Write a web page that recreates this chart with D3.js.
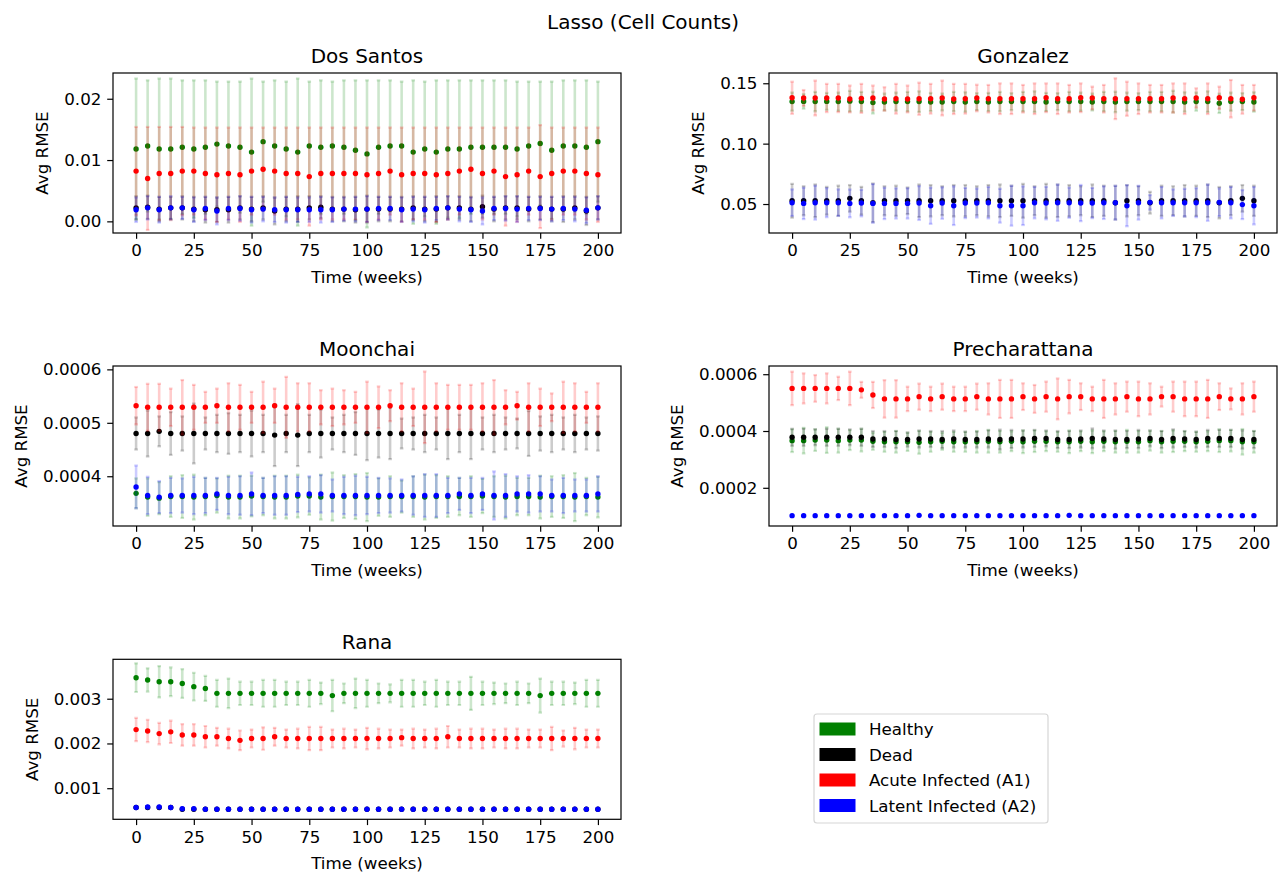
<!DOCTYPE html>
<html><head><meta charset="utf-8">
<script src="https://cdn.jsdelivr.net/npm/d3@7"></script>
<style>body{margin:0;background:#fff} svg text{font-family:"DejaVu Sans",sans-serif;fill:#000}</style>
</head><body><svg id="c" width="1280" height="873"></svg>
<script>
// ---------------- DATA ----------------
const figTitle = "Lasso (Cell Counts)";
const panelTitles = ["Dos Santos", "Gonzalez", "Moonchai", "Precharattana", "Rana"];
const seriesNames = ["Healthy", "Dead", "Acute Infected (A1)", "Latent Infected (A2)"];
const weeks = [0,5,10,15,20,25,30,35,40,45,50,55,60,65,70,75,80,85,90,95,100,105,110,115,120,125,130,135,140,145,150,155,160,165,170,175,180,185,190,195,200];
const xTickValues = [0,25,50,75,100,125,150,175,200];
const xTickLabels = ["0","25","50","75","100","125","150","175","200"];
const xLabel = "Time (weeks)";
const yLabel = "Avg RMSE";

// Dos Santos
const dsHealthy = [.0118,.0123,.0118,.0118,.0121,.0118,.0121,.0126,.0123,.0121,.0113,.0130,.0123,.0118,.0113,.0123,.0121,.0123,.0121,.0116,.0110,.0121,.0123,.0123,.0113,.0118,.0113,.0118,.0118,.0121,.0121,.0121,.0121,.0118,.0123,.0127,.0116,.0123,.0123,.0121,.0130];
const dsHealthyErr = [.0115,.0107,.0115,.0115,.0109,.0112,.0109,.0102,.0105,.0107,.0120,.0098,.0107,.0110,.0120,.0105,.0109,.0105,.0109,.0114,.0120,.0109,.0107,.0105,.0117,.0110,.0117,.0112,.0112,.0109,.0109,.0109,.0109,.0110,.0105,.0101,.0112,.0107,.0107,.0109,.0098];
const dsDead = [.0022,.0023,.0020,.0022,.0022,.0020,.0019,.0019,.0019,.0022,.0020,.0022,.0017,.0020,.0020,.0022,.0023,.0020,.0020,.0019,.0020,.0020,.0020,.0020,.0022,.0020,.0020,.0022,.0022,.0020,.0024,.0020,.0022,.0022,.0020,.0022,.0020,.0020,.0022,.0017,.0022];
const dsDeadErr = [.0019,.0019,.0020,.0018,.0019,.0020,.0021,.0020,.0021,.0019,.0020,.0019,.0022,.0020,.0021,.0019,.0018,.0020,.0020,.0021,.0022,.0020,.0020,.0020,.0019,.0020,.0021,.0019,.0019,.0020,.0018,.0020,.0019,.0019,.0020,.0019,.0020,.0021,.0019,.0023,.0019];
const dsA1 = [.0082,.0070,.0078,.0078,.0082,.0082,.0078,.0076,.0078,.0076,.0082,.0085,.0082,.0078,.0078,.0073,.0078,.0078,.0078,.0078,.0076,.0078,.0082,.0076,.0078,.0078,.0076,.0078,.0082,.0085,.0078,.0082,.0073,.0076,.0082,.0073,.0078,.0082,.0082,.0078,.0076];
const dsA1Err = [.0072,.0084,.0076,.0076,.0072,.0071,.0075,.0077,.0075,.0077,.0071,.0068,.0071,.0075,.0075,.0080,.0075,.0075,.0075,.0075,.0077,.0075,.0071,.0077,.0075,.0075,.0077,.0075,.0071,.0068,.0075,.0071,.0080,.0077,.0071,.0084,.0075,.0071,.0071,.0075,.0077];
const dsA2 = [.0019,.0022,.0019,.0022,.0022,.0019,.0021,.0017,.0021,.0021,.0019,.0020,.0019,.0019,.0019,.0019,.0019,.0019,.0020,.0020,.0020,.0021,.0021,.0019,.0020,.0019,.0021,.0022,.0020,.0019,.0017,.0021,.0021,.0020,.0021,.0021,.0020,.0021,.0020,.0018,.0022];
const dsA2Err = [.0020,.0019,.0021,.0019,.0018,.0020,.0019,.0022,.0019,.0020,.0021,.0020,.0020,.0021,.0020,.0020,.0021,.0020,.0019,.0020,.0021,.0019,.0019,.0020,.0020,.0021,.0019,.0019,.0020,.0020,.0022,.0019,.0020,.0021,.0019,.0019,.0020,.0019,.0020,.0021,.0019];
const dsYDomain = [-0.0019, 0.0242];
const dsYTicks = [0, 0.01, 0.02];
const dsYTickLabels = ["0.00", "0.01", "0.02"];

// Gonzalez
const gzHealthy = [.1348,.1350,.1348,.1350,.1348,.1352,.1348,.1340,.1345,.1348,.1348,.1348,.1345,.1345,.1348,.1345,.1348,.1345,.1348,.1348,.1348,.1348,.1345,.1348,.1348,.1348,.1345,.1348,.1345,.1348,.1348,.1348,.1348,.1348,.1345,.1348,.1348,.1334,.1348,.1348,.1345];
const gzHealthyErr = [.0075,.0060,.0080,.0070,.0075,.0085,.0080,.0090,.0070,.0075,.0080,.0085,.0075,.0070,.0080,.0080,.0070,.0075,.0080,.0070,.0080,.0085,.0075,.0070,.0080,.0075,.0070,.0080,.0085,.0075,.0070,.0080,.0080,.0090,.0080,.0075,.0085,.0080,.0075,.0070,.0080];
const gzDead = [.0527,.0527,.0527,.0527,.0527,.0547,.0527,.0510,.0527,.0527,.0527,.0527,.0527,.0527,.0527,.0527,.0527,.0527,.0527,.0527,.0527,.0527,.0527,.0527,.0527,.0527,.0527,.0527,.0511,.0527,.0527,.0511,.0527,.0527,.0527,.0527,.0527,.0511,.0527,.0547,.0527];
const gzDeadErr = [.0140,.0120,.0135,.0115,.0125,.0110,.0115,.0160,.0120,.0125,.0110,.0135,.0130,.0120,.0130,.0130,.0120,.0130,.0135,.0125,.0140,.0120,.0140,.0135,.0130,.0120,.0135,.0125,.0140,.0130,.0120,.0090,.0125,.0120,.0130,.0125,.0135,.0130,.0120,.0110,.0125];
const gzA1 = [.1380,.1378,.1378,.1378,.1378,.1370,.1375,.1378,.1370,.1372,.1370,.1372,.1372,.1378,.1370,.1372,.1378,.1372,.1372,.1372,.1372,.1372,.1380,.1372,.1372,.1380,.1378,.1372,.1372,.1372,.1372,.1372,.1372,.1378,.1372,.1378,.1372,.1380,.1372,.1367,.1380];
const gzA1Err = [.0133,.0066,.0144,.0117,.0117,.0111,.0120,.0103,.0097,.0123,.0111,.0133,.0123,.0144,.0125,.0123,.0110,.0114,.0127,.0127,.0114,.0127,.0119,.0127,.0114,.0119,.0094,.0114,.0169,.0141,.0127,.0114,.0114,.0121,.0127,.0080,.0127,.0092,.0155,.0119,.0106];
const gzA2 = [.0511,.0505,.0511,.0511,.0511,.0505,.0508,.0505,.0505,.0505,.0505,.0508,.0486,.0508,.0486,.0508,.0508,.0511,.0486,.0486,.0486,.0511,.0508,.0511,.0511,.0508,.0508,.0511,.0511,.0486,.0511,.0514,.0511,.0511,.0511,.0511,.0511,.0514,.0511,.0495,.0486];
const gzA2Err = [.0110,.0130,.0140,.0120,.0110,.0115,.0110,.0160,.0130,.0125,.0125,.0140,.0150,.0130,.0160,.0125,.0120,.0130,.0140,.0165,.0160,.0130,.0135,.0150,.0125,.0150,.0125,.0135,.0140,.0170,.0140,.0060,.0130,.0110,.0115,.0120,.0150,.0115,.0130,.0120,.0155];
const gzYDomain = [0.0260, 0.1585];
const gzYTicks = [0.05, 0.10, 0.15];
const gzYTickLabels = ["0.05", "0.10", "0.15"];

// Moonchai
const mcHealthy = [.000368,.000361,.000359,.000362,.000362,.000361,.000362,.000364,.000361,.000361,.000363,.000362,.000361,.000361,.000363,.000363,.000361,.000362,.000362,.000362,.000361,.000361,.000362,.000362,.000362,.000361,.000362,.000362,.000362,.000362,.000363,.000362,.000361,.000362,.000362,.000361,.000362,.000362,.000361,.000362,.000361];
const mcHealthyErr = [.000028,.000035,.000030,.000038,.000040,.000042,.000035,.000032,.000040,.000040,.000038,.000035,.000040,.000040,.000040,.000035,.000042,.000045,.000040,.000042,.000045,.000035,.000038,.000030,.000038,.000042,.000040,.000038,.000035,.000038,.000032,.000038,.000040,.000035,.000035,.000040,.000038,.000040,.000045,.000035,.000038];
const mcDead = [.000480,.000480,.000484,.000480,.000480,.000480,.000480,.000480,.000480,.000480,.000480,.000480,.000477,.000480,.000477,.000480,.000480,.000480,.000480,.000480,.000480,.000480,.000480,.000480,.000480,.000480,.000480,.000480,.000480,.000480,.000480,.000480,.000480,.000480,.000480,.000480,.000480,.000480,.000480,.000480,.000480];
const mcDeadErr = [.000030,.000043,.000028,.000040,.000032,.000056,.000030,.000035,.000038,.000035,.000043,.000035,.000058,.000035,.000058,.000035,.000045,.000030,.000035,.000040,.000050,.000045,.000048,.000028,.000030,.000035,.000030,.000048,.000035,.000048,.000030,.000035,.000030,.000028,.000042,.000032,.000035,.000030,.000035,.000030,.000032];
const mcA1 = [.000532,.000529,.000529,.000529,.000529,.000529,.000529,.000532,.000529,.000529,.000529,.000529,.000532,.000529,.000529,.000529,.000529,.000529,.000529,.000529,.000529,.000529,.000532,.000529,.000529,.000529,.000529,.000529,.000529,.000529,.000529,.000529,.000529,.000532,.000529,.000529,.000529,.000529,.000529,.000529,.000529];
const mcA1Err = [.000035,.000044,.000044,.000035,.000051,.000042,.000029,.000032,.000045,.000042,.000029,.000048,.000032,.000057,.000045,.000045,.000032,.000035,.000032,.000029,.000048,.000039,.000029,.000045,.000035,.000067,.000045,.000042,.000042,.000042,.000045,.000051,.000032,.000026,.000045,.000035,.000026,.000048,.000045,.000029,.000045];
const mcA2 = [.000380,.000364,.000361,.000364,.000364,.000364,.000364,.000367,.000364,.000364,.000367,.000364,.000364,.000364,.000366,.000367,.000367,.000364,.000364,.000364,.000364,.000364,.000364,.000364,.000364,.000364,.000364,.000364,.000367,.000364,.000367,.000364,.000364,.000367,.000367,.000367,.000364,.000364,.000364,.000364,.000367];
const mcA2Err = [.000040,.000035,.000030,.000033,.000032,.000035,.000033,.000030,.000035,.000036,.000040,.000033,.000036,.000036,.000033,.000033,.000035,.000030,.000035,.000037,.000035,.000033,.000032,.000030,.000036,.000040,.000040,.000033,.000030,.000033,.000030,.000045,.000040,.000033,.000035,.000033,.000030,.000033,.000030,.000030,.000033];
const mcYDomain = [0.0003069, 0.0006063];
const mcYTicks = [0.0004, 0.0005, 0.0006];
const mcYTickLabels = ["0.0004", "0.0005", "0.0006"];

// Precharattana
const prHealthy = [.000366,.000366,.000368,.000368,.000366,.000368,.000368,.000364,.000362,.000362,.000362,.000360,.000362,.000364,.000362,.000362,.000362,.000364,.000362,.000364,.000362,.000364,.000364,.000362,.000362,.000364,.000362,.000364,.000362,.000364,.000362,.000366,.000362,.000364,.000364,.000362,.000364,.000366,.000366,.000362,.000362];
const prHealthyErr = [.000040,.000045,.000038,.000045,.000042,.000035,.000040,.000030,.000035,.000038,.000032,.000040,.000035,.000030,.000035,.000035,.000038,.000040,.000038,.000035,.000040,.000038,.000035,.000035,.000040,.000035,.000040,.000035,.000038,.000040,.000038,.000035,.000038,.000038,.000035,.000035,.000035,.000040,.000038,.000045,.000038];
const prDead = [.000378,.000378,.000378,.000378,.000378,.000378,.000378,.000372,.000372,.000370,.000370,.000372,.000372,.000370,.000372,.000370,.000370,.000372,.000370,.000372,.000372,.000374,.000374,.000370,.000370,.000372,.000374,.000372,.000370,.000370,.000372,.000374,.000370,.000374,.000372,.000370,.000374,.000374,.000374,.000370,.000370];
const prDeadErr = [.000030,.000030,.000028,.000030,.000030,.000028,.000030,.000028,.000028,.000030,.000025,.000030,.000028,.000030,.000030,.000028,.000028,.000030,.000035,.000032,.000030,.000030,.000028,.000030,.000030,.000030,.000035,.000030,.000032,.000030,.000032,.000028,.000030,.000032,.000028,.000028,.000030,.000030,.000030,.000032,.000030];
const prA1 = [.000550,.000550,.000550,.000550,.000550,.000550,.000545,.000527,.000513,.000513,.000513,.000521,.000513,.000521,.000513,.000513,.000521,.000513,.000513,.000513,.000521,.000513,.000521,.000513,.000521,.000521,.000513,.000513,.000513,.000521,.000513,.000513,.000521,.000521,.000513,.000513,.000513,.000521,.000513,.000513,.000521];
const prA1Err = [.000059,.000053,.000047,.000053,.000041,.000059,.000028,.000046,.000066,.000066,.000043,.000046,.000043,.000046,.000043,.000043,.000046,.000055,.000067,.000067,.000047,.000049,.000053,.000072,.000059,.000047,.000043,.000067,.000055,.000053,.000061,.000055,.000035,.000053,.000061,.000061,.000067,.000047,.000037,.000055,.000053];
const prA2 = [.000102,.000102,.000102,.000102,.000102,.000102,.000102,.000102,.000102,.000102,.000102,.000103,.000102,.000102,.000102,.000102,.000102,.000102,.000102,.000102,.000102,.000102,.000102,.000102,.000103,.000102,.000102,.000102,.000102,.000102,.000102,.000102,.000102,.000102,.000102,.000102,.000102,.000102,.000102,.000102,.000102];
const prA2Err = [.000003,.000003,.000003,.000003,.000003,.000003,.000003,.000003,.000003,.000003,.000003,.000005,.000003,.000003,.000003,.000003,.000003,.000003,.000003,.000003,.000003,.000003,.000003,.000003,.000005,.000003,.000003,.000003,.000003,.000003,.000003,.000003,.000003,.000003,.000003,.000003,.000003,.000003,.000003,.000003,.000003];
const prYDomain = [0.0000655, 0.0006289];
const prYTicks = [0.0002, 0.0004, 0.0006];
const prYTickLabels = ["0.0002", "0.0004", "0.0006"];

// Rana
const raHealthy = [.00347,.00342,.00338,.00338,.00334,.00327,.00323,.00312,.00312,.00312,.00312,.00312,.00312,.00312,.00312,.00312,.00312,.00307,.00312,.00312,.00312,.00312,.00312,.00312,.00312,.00312,.00312,.00312,.00312,.00312,.00312,.00312,.00312,.00312,.00312,.00307,.00312,.00312,.00312,.00312,.00312];
const raHealthyErr = [.00032,.00026,.00035,.00032,.00032,.00031,.00028,.00030,.00033,.00026,.00026,.00030,.00030,.00026,.00026,.00030,.00024,.00035,.00022,.00033,.00030,.00022,.00020,.00030,.00030,.00026,.00030,.00026,.00026,.00037,.00026,.00024,.00022,.00026,.00022,.00038,.00026,.00026,.00024,.00030,.00030];
const raDead = [.00057,.00057,.00057,.00057,.00053,.00053,.00053,.00053,.00053,.00053,.00053,.00053,.00053,.00053,.00053,.00053,.00053,.00053,.00053,.00053,.00053,.00053,.00053,.00053,.00053,.00053,.00053,.00053,.00053,.00053,.00053,.00053,.00053,.00053,.00053,.00053,.00053,.00053,.00053,.00053,.00053];
const raDeadErr = [.00002,.00002,.00002,.00002,.00002,.00002,.00002,.00002,.00002,.00002,.00002,.00002,.00002,.00002,.00002,.00002,.00002,.00002,.00002,.00002,.00002,.00002,.00002,.00002,.00002,.00002,.00002,.00002,.00002,.00002,.00002,.00002,.00002,.00002,.00002,.00002,.00002,.00002,.00002,.00002,.00002];
const raA1 = [.00231,.00228,.00222,.00226,.00219,.00219,.00215,.00215,.00211,.00207,.00211,.00211,.00215,.00211,.00211,.00211,.00211,.00211,.00211,.00211,.00211,.00211,.00211,.00213,.00211,.00211,.00211,.00215,.00211,.00211,.00211,.00211,.00211,.00211,.00211,.00211,.00211,.00211,.00211,.00211,.00211];
const raA1Err = [.00026,.00025,.00024,.00025,.00024,.00024,.00024,.00020,.00022,.00022,.00020,.00025,.00020,.00020,.00022,.00026,.00026,.00020,.00022,.00020,.00024,.00022,.00020,.00018,.00022,.00020,.00022,.00024,.00020,.00022,.00022,.00020,.00022,.00022,.00020,.00020,.00026,.00018,.00024,.00020,.00020];
const raA2 = [.00057,.00058,.00058,.00057,.00054,.00054,.00053,.00053,.00053,.00053,.00053,.00053,.00053,.00053,.00053,.00053,.00053,.00053,.00053,.00053,.00053,.00053,.00053,.00053,.00053,.00053,.00053,.00053,.00053,.00053,.00053,.00053,.00053,.00053,.00053,.00053,.00053,.00053,.00053,.00053,.00053];
const raA2Err = [.00002,.00002,.00002,.00002,.00003,.00002,.00002,.00002,.00002,.00002,.00002,.00002,.00002,.00002,.00002,.00002,.00002,.00002,.00002,.00002,.00002,.00002,.00002,.00002,.00002,.00002,.00002,.00002,.00002,.00002,.00002,.00002,.00002,.00002,.00002,.00002,.00002,.00002,.00002,.00002,.00002];
const raYDomain = [0.000305, 0.003881];
const raYTicks = [0.001, 0.002, 0.003];
const raYTickLabels = ["0.001", "0.002", "0.003"];

// ---------------- LAYOUT / STYLE ----------------
const seriesColors = ["#008000", "#000000", "#ff0000", "#0000ff"];
const W = 1280, H = 873;
const colX = [113, 769], rowY = [73, 366, 659.3], boxW = 508, boxH = 160;
const fs = 16.7, titleFs = 20;

const panels = [
  {t: panelTitles[0], m: [dsHealthy, dsDead, dsA1, dsA2], e: [dsHealthyErr, dsDeadErr, dsA1Err, dsA2Err], yd: dsYDomain, yt: dsYTicks, yl: dsYTickLabels, c: 0, r: 0},
  {t: panelTitles[1], m: [gzHealthy, gzDead, gzA1, gzA2], e: [gzHealthyErr, gzDeadErr, gzA1Err, gzA2Err], yd: gzYDomain, yt: gzYTicks, yl: gzYTickLabels, c: 1, r: 0},
  {t: panelTitles[2], m: [mcHealthy, mcDead, mcA1, mcA2], e: [mcHealthyErr, mcDeadErr, mcA1Err, mcA2Err], yd: mcYDomain, yt: mcYTicks, yl: mcYTickLabels, c: 0, r: 1},
  {t: panelTitles[3], m: [prHealthy, prDead, prA1, prA2], e: [prHealthyErr, prDeadErr, prA1Err, prA2Err], yd: prYDomain, yt: prYTicks, yl: prYTickLabels, c: 1, r: 1},
  {t: panelTitles[4], m: [raHealthy, raDead, raA1, raA2], e: [raHealthyErr, raDeadErr, raA1Err, raA2Err], yd: raYDomain, yt: raYTicks, yl: raYTickLabels, c: 0, r: 2}
];

const svg = d3.select("#c");
svg.append("rect").attr("width", W).attr("height", H).attr("fill", "#fff");

svg.append("text").attr("x", 643).attr("y", 29.3).attr("text-anchor", "middle")
  .style("font-size", titleFs + "px").text(figTitle);

panels.forEach((p, pi) => {
  const bx = colX[p.c], by = rowY[p.r];
  const x = d3.scaleLinear().domain([-10, 210]).range([bx, bx + boxW]);
  const y = d3.scaleLinear().domain(p.yd).range([by + boxH, by]);
  const g = svg.append("g");

  const clipId = "clip" + pi;
  g.append("clipPath").attr("id", clipId).append("rect")
    .attr("x", bx).attr("y", by).attr("width", boxW).attr("height", boxH);
  const plot = g.append("g").attr("clip-path", `url(#${clipId})`);

  p.m.forEach((vals, si) => {
    const col = seriesColors[si];
    const errs = p.e[si];
    const sg = plot.append("g");
    const rows = weeks.map((w, i) => ({w, v: vals[i], e: errs[i]}));
    sg.selectAll("line.bar").data(rows).join("line").attr("class", "bar")
      .attr("x1", d => x(d.w)).attr("x2", d => x(d.w))
      .attr("y1", d => y(d.v - d.e)).attr("y2", d => y(d.v + d.e))
      .attr("stroke", col).attr("stroke-opacity", 0.2).attr("stroke-width", 2.6);
    [-1, 1].forEach(sgn => {
      sg.selectAll("line.cap" + (sgn > 0 ? "t" : "b")).data(rows).join("line")
        .attr("class", "cap" + (sgn > 0 ? "t" : "b"))
        .attr("x1", d => x(d.w) - 1.8).attr("x2", d => x(d.w) + 1.8)
        .attr("y1", d => y(d.v + sgn * d.e)).attr("y2", d => y(d.v + sgn * d.e))
        .attr("stroke", col).attr("stroke-opacity", 0.2).attr("stroke-width", 2.2);
    });
    sg.selectAll("circle").data(rows).join("circle")
      .attr("cx", d => x(d.w)).attr("cy", d => y(d.v)).attr("r", 2.7)
      .attr("fill", col);
  });

  // box
  g.append("rect").attr("x", bx).attr("y", by).attr("width", boxW).attr("height", boxH)
    .attr("fill", "none").attr("stroke", "#000").attr("stroke-width", 1.2);

  // x axis
  const xa = g.append("g").attr("transform", `translate(0,${by + boxH})`)
    .call(d3.axisBottom(x).tickValues(xTickValues).tickFormat((d, i) => xTickLabels[i]).tickSize(5.8).tickPadding(5.8));
  xa.select(".domain").remove();
  xa.selectAll("line").attr("stroke", "#000").attr("stroke-width", 1.2);
  xa.selectAll("text").style("font-size", fs + "px").attr("fill", "#000")
    .attr("font-family", "DejaVu Sans");

  // y axis
  const ya = g.append("g").attr("transform", `translate(${bx},0)`)
    .call(d3.axisLeft(y).tickValues(p.yt).tickFormat((d, i) => p.yl[i]).tickSize(5.8).tickPadding(5.8));
  ya.select(".domain").remove();
  ya.selectAll("line").attr("stroke", "#000").attr("stroke-width", 1.2);
  ya.selectAll("text").style("font-size", fs + "px").attr("fill", "#000")
    .attr("font-family", "DejaVu Sans");

  let minLeft = Infinity;
  ya.selectAll("text").each(function () { const b = this.getBBox(); minLeft = Math.min(minLeft, b.x + bx); });

  // labels
  g.append("text").attr("x", bx + boxW / 2).attr("y", by + boxH + 49.5).attr("text-anchor", "middle")
    .style("font-size", fs + "px").text(xLabel);
  const lx = minLeft - 16;
  g.append("text").attr("transform", `translate(${lx},${by + boxH / 2}) rotate(-90)`).attr("text-anchor", "middle")
    .style("font-size", fs + "px").text(yLabel);
  g.append("text").attr("x", bx + boxW / 2).attr("y", by - 10.3).attr("text-anchor", "middle")
    .style("font-size", titleFs + "px").text(p.t);
});

// legend
const lg = svg.append("g");
lg.append("rect").attr("x", 814).attr("y", 714).attr("width", 234).attr("height", 109).attr("rx", 3)
  .attr("fill", "#fff").attr("stroke", "#d6d6d6").attr("stroke-width", 1.2);
seriesNames.forEach((n, i) => {
  const cy = 729 + i * 25.5;
  lg.append("rect").attr("x", 819.5).attr("y", cy - 6.5).attr("width", 36).attr("height", 13).attr("fill", seriesColors[i]);
  lg.append("text").attr("x", 869).attr("y", cy + 6).style("font-size", fs + "px").text(n);
});
</script></body></html>
